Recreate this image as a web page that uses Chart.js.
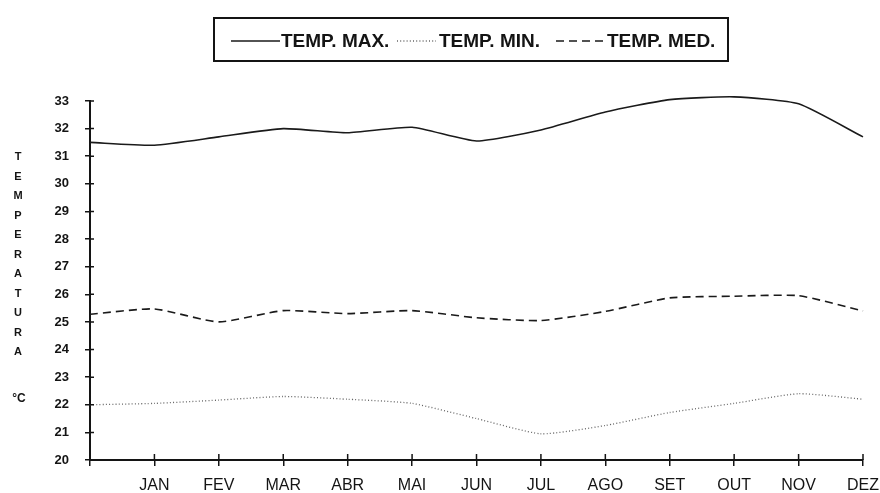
<!DOCTYPE html>
<html>
<head>
<meta charset="utf-8">
<script src="https://cdn.jsdelivr.net/npm/chart.js@4"></script>
<style>
  html,body{margin:0;padding:0;background:#fff;}
  #wrap{width:880px;height:493px;position:relative;}
</style>
</head>
<body>
<div id="wrap"><canvas id="c" width="880" height="493"></canvas></div>
<script>
// ---- data ----
const months = ['', 'JAN', 'FEV', 'MAR', 'ABR', 'MAI', 'JUN', 'JUL', 'AGO', 'SET', 'OUT', 'NOV', 'DEZ'];
const seriesNames = ['TEMP. MAX.', 'TEMP. MIN.', 'TEMP. MED.'];
const tempMax = [31.5, 31.4, 31.7, 32.0, 31.85, 32.05, 31.55, 31.95, 32.6, 33.05, 33.15, 32.9, 31.7];
const tempMin = [22.0, 22.05, 22.17, 22.3, 22.2, 22.05, 21.5, 20.95, 21.25, 21.72, 22.05, 22.4, 22.2];
const tempMed = [25.28, 25.47, 25.0, 25.41, 25.3, 25.41, 25.15, 25.05, 25.38, 25.87, 25.93, 25.95, 25.4];
const yTitle = 'TEMPERATURA';
const yUnit = '°C';
const yMin = 20, yMax = 33;

const INK = '#141414';
const styles = [
  {dash: [], width: 1.6, color: '#1a1a1a'},
  {dash: [1, 2.2], width: 1.3, color: '#666'},
  {dash: [8, 5], width: 1.6, color: '#1a1a1a'}
];

const decor = {
  id: 'decor',
  afterDraw(chart) {
    const ctx = chart.ctx;
    const xs = chart.scales.x, ys = chart.scales.y;
    ctx.save();
    ctx.strokeStyle = INK;
    ctx.lineWidth = 1.5;
    // inner halves of the crossing ticks
    ctx.beginPath();
    for (let v = yMin + 1; v <= yMax; v++) {
      const py = ys.getPixelForValue(v);
      ctx.moveTo(xs.left, py); ctx.lineTo(xs.left + 4, py);
    }
    for (let i = 1; i < months.length; i++) {
      const px = xs.getPixelForValue(i);
      ctx.moveTo(px, ys.bottom); ctx.lineTo(px, ys.bottom - 6);
    }
    ctx.stroke();

    // vertical title
    ctx.fillStyle = INK;
    ctx.font = 'bold 11px "Liberation Sans", Arial, sans-serif';
    ctx.textAlign = 'center';
    ctx.textBaseline = 'middle';
    const letters = yTitle.split('');
    letters.forEach((ch, i) => ctx.fillText(ch, 18, 157 + i * 19.5));
    ctx.font = 'bold 12px "Liberation Sans", Arial, sans-serif';
    ctx.fillText(yUnit, 19, 399);

    // legend box
    ctx.lineWidth = 2;
    ctx.strokeRect(214, 18, 514, 43);
    const ly = 41;
    const items = [
      {x0: 231, x1: 280, tx: 281},
      {x0: 397, x1: 436, tx: 439},
      {x0: 556, x1: 605, tx: 607}
    ];
    ctx.font = 'bold 19px "Liberation Sans", Arial, sans-serif';
    ctx.textAlign = 'left';
    items.forEach((it, i) => {
      const s = styles[i];
      ctx.strokeStyle = s.color;
      ctx.lineWidth = s.width;
      ctx.setLineDash(s.dash);
      ctx.beginPath(); ctx.moveTo(it.x0, ly); ctx.lineTo(it.x1, ly); ctx.stroke();
      ctx.setLineDash([]);
      ctx.fillStyle = INK;
      ctx.fillText(seriesNames[i], it.tx, ly + 1);
    });
    ctx.restore();
  }
};

new Chart(document.getElementById('c'), {
  type: 'line',
  data: {
    labels: months,
    datasets: [tempMax, tempMin, tempMed].map((d, i) => ({
      label: seriesNames[i],
      data: d,
      borderColor: styles[i].color,
      borderWidth: styles[i].width,
      borderDash: styles[i].dash,
      pointRadius: 0,
      tension: 0.18,
      clip: false,
      fill: false
    }))
  },
  options: {
    responsive: false,
    animation: false,
    layout: {padding: {left: 0, right: 17, top: 101, bottom: 0}},
    plugins: {legend: {display: false}, tooltip: {enabled: false}},
    scales: {
      x: {
        type: 'category',
        offset: false,
        afterFit(s) { s.height = 33; s.paddingLeft = 0; s.paddingRight = 0; },
        border: {display: true, color: INK, width: 2},
        grid: {drawOnChartArea: false, drawTicks: true, tickLength: 6, color: INK, lineWidth: 1.5},
        ticks: {
          color: INK, padding: 10, maxRotation: 0, autoSkip: false,
          font: {family: '"Liberation Sans", Arial, sans-serif', size: 16}
        }
      },
      y: {
        min: yMin, max: yMax,
        afterFit(s) { s.width = 90; s.paddingTop = 0; s.paddingBottom = 0; },
        border: {display: true, color: INK, width: 2},
        grid: {drawOnChartArea: false, drawTicks: true, tickLength: 5, color: INK, lineWidth: 1.5},
        ticks: {
          stepSize: 1, color: INK, padding: 16,
          font: {family: '"Liberation Sans", Arial, sans-serif', size: 13, weight: 'bold'}
        }
      }
    }
  },
  plugins: [decor]
});
</script>
</body>
</html>
